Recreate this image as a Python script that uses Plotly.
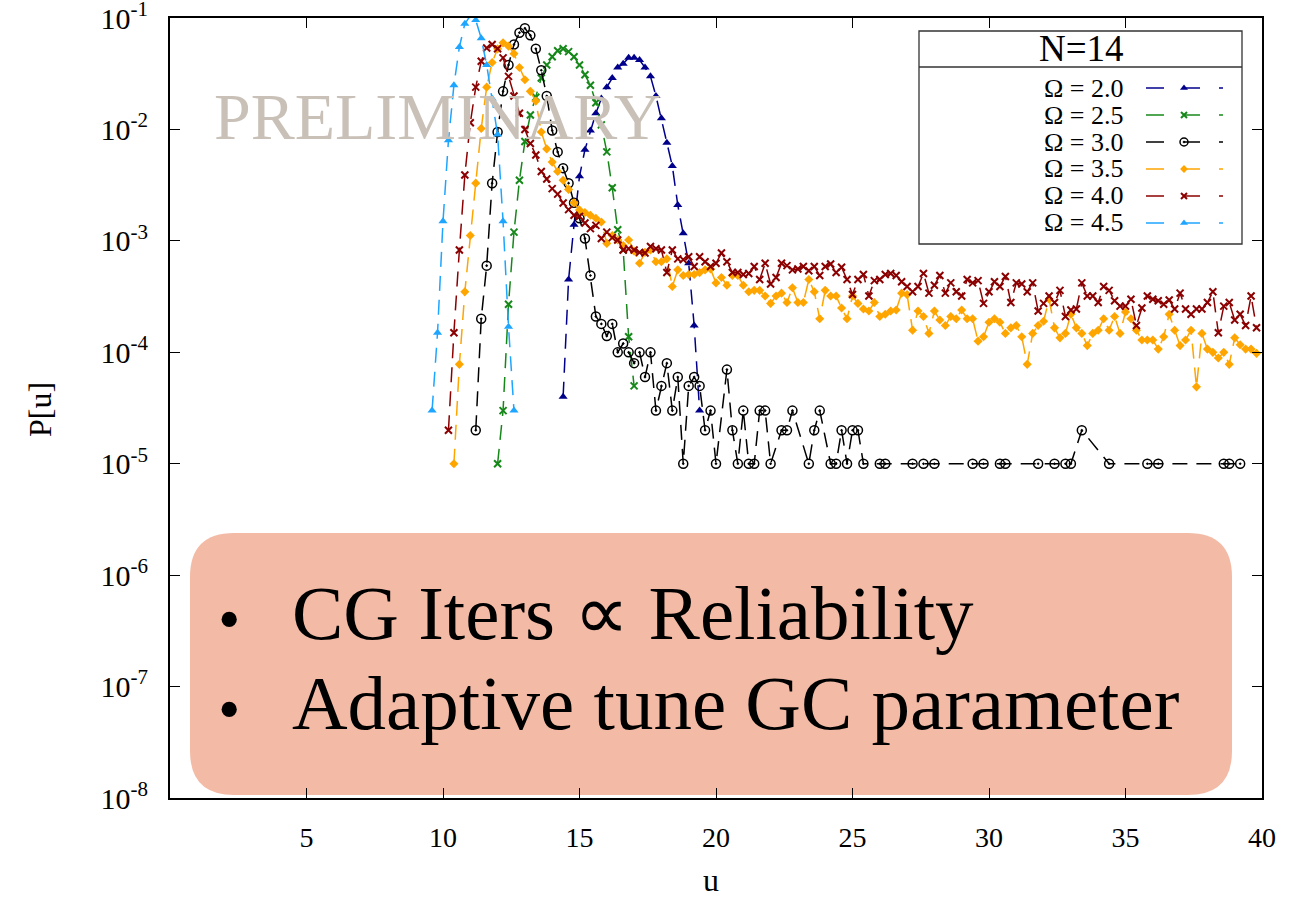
import plotly.graph_objects as go

FONT = "Liberation Serif, Times New Roman, serif"

# ---------------- data (u grid step 0.2) ----------------
U_STEP = 0.2

u0_omega20 = 14.4
p_omega20 = [4e-5, 4.5e-4, 1.4e-3, 3.8e-3, 6.6e-3, 9.8e-3, 1.4e-2, 1.9e-2, 2.4e-2, 2.9e-2,
             3.6e-2, 3.9e-2, 4.4e-2, 4.4e-2, 4.2e-2, 3.6e-2, 3.0e-2, 2.0e-2, 1.26e-2, 7.6e-3,
             4.7e-3, 2.1e-3, 1.17e-3, 6.3e-4, 1.74e-4, 3e-5]

u0_omega25 = 12.0
p_omega25 = [1.0e-5, 3.0e-5, 2.7e-4, 1.2e-3, 3.5e-3, 7.8e-3, 1.35e-2, 1.95e-2, 2.9e-2, 3.8e-2,
             4.5e-2, 5.1e-2, 5.3e-2, 5.0e-2, 4.5e-2, 3.8e-2, 3.1e-2, 2.5e-2, 1.74e-2, 1.1e-2,
             6.3e-3, 3.0e-3, 1.26e-3, 8.3e-4, 1.38e-4, 5.0e-5]

u_omega30 = [11.2, 11.4, 11.6, 11.8, 12.0, 12.2, 12.4, 12.6, 12.8, 13.0,
             13.2, 13.4, 13.6, 13.8, 14.0, 14.2, 14.4, 14.6, 14.8, 15.0,
             15.2, 15.4, 15.6, 15.8, 16.0, 16.2, 16.4, 16.6, 16.8, 17.0,
             17.2, 17.4, 17.6, 17.8, 18.0, 18.2, 18.4, 18.6, 18.8, 19.0,
             19.2, 19.4, 19.6, 19.8, 20.0, 20.4, 20.6, 20.8, 21.0, 21.2,
             21.4, 21.6, 21.8, 22.0, 22.4, 22.6, 22.8, 23.4, 23.6, 23.8,
             24.2, 24.4, 24.6, 24.8, 25.0, 25.2, 25.4, 26.0, 26.2, 27.2,
             27.6, 28.0, 29.4, 29.8, 30.4, 30.6, 31.8, 32.4, 32.8, 33.0,
             33.4, 34.4, 35.8, 36.2, 38.6, 38.8, 39.2]
p_omega30 = [2e-5, 2e-4, 6e-4, 3.3e-3, 9.5e-3, 2.2e-2, 3.8e-2, 5.8e-2, 7.4e-2, 8.1e-2,
             7.0e-2, 5.3e-2, 3.4e-2, 2.0e-2, 9.8e-3, 6.3e-3, 4.5e-3, 3.3e-3, 2.2e-3, 1.6e-3,
             1.05e-3, 4.9e-4, 2.1e-4, 1.8e-4, 1.4e-4, 1.8e-4, 1.0e-4, 1.2e-4, 1.0e-4, 8e-5,
             1.0e-4, 6e-5, 1.0e-4, 3e-5, 5e-5, 8e-5, 3e-5, 6e-5, 1e-5, 5e-5,
             6e-5, 5e-5, 2e-5, 3e-5, 1e-5, 7e-5, 2e-5, 1e-5, 3e-5, 1e-5,
             1e-5, 3e-5, 3e-5, 1e-5, 2e-5, 2e-5, 3e-5, 1e-5, 2e-5, 3e-5,
             1e-5, 1e-5, 2e-5, 1e-5, 2e-5, 2e-5, 1e-5, 1e-5, 1e-5, 1e-5,
             1e-5, 1e-5, 1e-5, 1e-5, 1e-5, 1e-5, 1e-5, 1e-5, 1e-5, 1e-5,
             2e-5, 1e-5, 1e-5, 1e-5, 1e-5, 1e-5, 1e-5]

u0_omega35 = 10.4
p_omega35 = [1.0e-5, 7.8e-5, 3.5e-4, 1.12e-3, 3.3e-3, 1.02e-2, 2.4e-2, 4.0e-2, 5.3e-2, 6.0e-2,
             5.6e-2, 4.8e-2, 3.6e-2, 2.8e-2, 2.2e-2, 1.8e-2, 9.5e-3, 6.7e-3, 5.1e-3, 4.2e-3,
             3.5e-3, 2.9e-3, 2.2e-3, 1.9e-3, 1.8e-3, 1.7e-3, 1.6e-3, 1.48e-3, 9.5e-4, 1.12e-3,
             1.02e-3, 9.1e-4, 1.02e-3, 8.1e-4, 6.3e-4, 7.9e-4, 8.3e-4, 6.5e-4, 6.5e-4, 6.9e-4,
             3.9e-4, 5.5e-4, 4.9e-4, 5.0e-4, 5.0e-4, 5.2e-4, 5.5e-4, 5.6e-4, 4.2e-4, 4.7e-4,
             4.0e-4, 4.9e-4, 4.9e-4, 4.0e-4, 3.5e-4, 3.6e-4, 3.6e-4, 3.2e-4, 2.75e-4, 3.2e-4,
             3.4e-4, 2.8e-4, 3.8e-4, 2.8e-4, 2.8e-4, 4.5e-4, 3.5e-4, 2.0e-4, 3.6e-4, 3.2e-4,
             3.2e-4, 2.5e-4, 2.0e-4, 3.2e-4, 2.75e-4, 2.45e-4, 2.35e-4, 2.8e-4, 2.1e-4, 2.2e-4,
             2.35e-4, 2.4e-4, 3.4e-4, 3.3e-4, 1.58e-4, 2.35e-4, 2.1e-4, 1.48e-4, 2.35e-4, 1.95e-4,
             1.74e-4, 2.1e-4, 2.0e-4, 2.4e-4, 2.0e-4, 2.0e-4, 1.26e-4, 1.38e-4, 1.86e-4, 2.0e-4,
             1.86e-4, 1.48e-4, 1.66e-4, 1.74e-4, 1.38e-4, 7.8e-5, 1.48e-4, 1.74e-4, 1.9e-4, 3.0e-4,
             1.66e-4, 1.35e-4, 1.48e-4, 2.2e-4, 1.66e-4, 1.48e-4, 1.15e-4, 1.48e-4, 1.58e-4, 2.0e-4,
             1.58e-4, 2.1e-4, 1.48e-4, 2.3e-4, 2.0e-4, 1.58e-4, 1.29e-4, 1.29e-4, 1.29e-4, 1.07e-4,
             1.38e-4, 2.2e-4, 1.58e-4, 1.15e-4, 1.29e-4, 1.58e-4, 4.9e-5, 1.48e-4, 1.07e-4, 1.0e-4,
             8.9e-5, 1.0e-4, 7.8e-5, 1.35e-4, 1.17e-4, 1.07e-4, 1.07e-4, 9.8e-5]

u0_omega40 = 10.2
p_omega40 = [2.0e-5, 1.5e-4, 8.3e-4, 3.9e-3, 1.15e-2, 2.4e-2, 4.1e-2, 5.4e-2, 5.8e-2, 5.3e-2,
             4.4e-2, 3.0e-2, 2.0e-2, 1.4e-2, 1.0e-2, 7.5e-3, 5.9e-3, 4.2e-3, 3.6e-3,
             2.95e-3, 2.63e-3, 2.19e-3, 1.91e-3, 1.70e-3, 1.66e-3, 1.45e-3, 1.29e-3, 1.38e-3, 1.05e-3,
             1.20e-3, 1.07e-3, 1.02e-3, 8.3e-4, 8.5e-4, 8.3e-4, 7.9e-4, 7.8e-4, 8.9e-4, 8.5e-4,
             8.3e-4, 5.2e-4, 8.3e-4, 6.9e-4, 6.8e-4, 7.2e-4, 5.9e-4, 7.2e-4, 6.5e-4, 5.9e-4,
             6.3e-4, 7.8e-4, 6.5e-4, 5.2e-4, 5.2e-4, 5.0e-4, 5.1e-4, 5.9e-4, 4.5e-4, 6.3e-4,
             4.1e-4, 4.7e-4, 6.3e-4, 6.0e-4, 5.5e-4, 5.6e-4, 5.9e-4, 5.4e-4, 5.9e-4, 4.9e-4,
             5.9e-4, 6.2e-4, 5.2e-4, 5.8e-4, 4.5e-4, 3.3e-4, 4.5e-4, 5.0e-4, 3.2e-4, 4.4e-4,
             4.5e-4, 5.0e-4, 5.1e-4, 4.9e-4, 4.3e-4, 3.9e-4, 3.5e-4, 3.9e-4, 5.1e-4, 3.4e-4,
             4.0e-4, 4.9e-4, 3.4e-4, 4.2e-4, 3.5e-4, 3.2e-4, 4.5e-4, 4.2e-4, 4.4e-4, 2.75e-4,
             3.5e-4, 4.3e-4, 3.9e-4, 4.8e-4, 2.8e-4, 4.2e-4, 4.1e-4, 3.5e-4, 4.2e-4, 2.35e-4,
             2.75e-4, 3.2e-4, 2.8e-4, 3.6e-4, 2.1e-4, 2.4e-4, 2.45e-4, 4.2e-4, 3.2e-4, 3.2e-4,
             2.8e-4, 3.9e-4, 3.6e-4, 2.9e-4, 2.6e-4, 2.6e-4, 3.0e-4, 1.74e-4, 2.5e-4, 3.2e-4,
             3.0e-4, 2.9e-4, 2.7e-4, 2.95e-4, 2.45e-4, 3.4e-4, 2.45e-4, 2.2e-4, 2.45e-4, 2.45e-4,
             2.8e-4, 3.5e-4, 1.5e-4, 2.6e-4, 2.8e-4, 1.95e-4, 2.2e-4, 1.74e-4, 3.2e-4, 1.66e-4]

u0_omega45 = 9.6
p_omega45 = [3.0e-5, 1.5e-4, 1.5e-3, 8.0e-3, 2.5e-2, 5.5e-2, 8.9e-2, 1.05e-1, 9.6e-2, 6.6e-2,
             3.8e-2, 1.9e-2, 9.0e-3, 1.5e-3, 1.7e-4, 3.0e-5]

series_names = ["Ω = 2.0", "Ω = 2.5", "Ω = 3.0", "Ω = 3.5", "Ω = 4.0", "Ω = 4.5"]
legend_title = "N=14"
x_ticks = [5, 10, 15, 20, 25, 30, 35, 40]
y_exponents = [-8, -7, -6, -5, -4, -3, -2, -1]
bullet_lines = ["CG Iters ∝ Reliability", "Adaptive tune GC parameter"]
watermark = "PRELIMINARY"


def grid(start, n):
    return [round(start + U_STEP * i, 1) for i in range(n)]


series_data = [
    (grid(u0_omega20, len(p_omega20)), p_omega20),
    (grid(u0_omega25, len(p_omega25)), p_omega25),
    (u_omega30, p_omega30),
    (grid(u0_omega35, len(p_omega35)), p_omega35),
    (grid(u0_omega40, len(p_omega40)), p_omega40),
    (grid(u0_omega45, len(p_omega45)), p_omega45),
]

# ---------------- styles ----------------
styles = [
    dict(color="#00008b", symbol="triangle-up", size=8, mlw=0),
    dict(color="#16881a", symbol="x-thin", size=7, mlw=2),
    dict(color="#000000", symbol="circle-open-dot", size=9, mlw=1.5),
    dict(color="#ffa500", symbol="diamond", size=7, mlw=0),
    dict(color="#8b0000", symbol="x-thin", size=7, mlw=2),
    dict(color="#1ea5ff", symbol="triangle-up", size=8, mlw=0),
]
DASH = "15px,9px"

# plot area in pixels
PL, PR, PT, PB = 170, 1262, 18, 798


def pxx(x):
    return (x - PL) / (PR - PL)


def pxy(y):
    return (PB - y) / (PB - PT)


fig = go.Figure()

for name, (u, p), st in zip(series_names, series_data, styles):
    fig.add_trace(go.Scatter(
        x=u, y=p, name=name, mode="lines+markers",
        line=dict(color=st["color"], width=1.5, dash=DASH),
        marker=dict(symbol=st["symbol"], size=st["size"], color=st["color"],
                    line=dict(color=st["color"], width=st["mlw"])),
        xaxis="x", yaxis="y", showlegend=False,
    ))

# ---------------- custom gnuplot-like legend (overlay axes in plot-fraction units) ----------------
row_y = [88, 115, 142, 169, 196, 223]
for name, st, ry in zip(series_names, styles, row_y):
    yy = pxy(ry)
    fig.add_trace(go.Scatter(
        x=[pxx(1146), pxx(1164), None, pxx(1184), pxx(1200), None, pxx(1219), pxx(1223)],
        y=[yy, yy, None, yy, yy, None, yy, yy],
        mode="lines", line=dict(color=st["color"], width=1.5),
        xaxis="x2", yaxis="y2", showlegend=False, hoverinfo="skip",
    ))
    fig.add_trace(go.Scatter(
        x=[pxx(1184)], y=[yy], mode="markers",
        marker=dict(symbol=st["symbol"], size=st["size"] - 1, color=st["color"],
                    line=dict(color=st["color"], width=st["mlw"])),
        xaxis="x2", yaxis="y2", showlegend=False, hoverinfo="skip",
    ))

annotations = []
for name, ry in zip(series_names, row_y):
    annotations.append(dict(
        text=name, xref="paper", yref="paper", x=pxx(1126), y=pxy(ry),
        xanchor="right", yanchor="middle", showarrow=False,
        font=dict(family=FONT, size=26, color="black"),
    ))
annotations.append(dict(
    text=legend_title, xref="paper", yref="paper", x=pxx(1081), y=pxy(49),
    xanchor="center", yanchor="middle", showarrow=False,
    font=dict(family=FONT, size=37, color="black"),
))

# watermark (drawn above the data, as in the reference)
annotations.append(dict(
    text=watermark, xref="paper", yref="paper", x=pxx(437), y=pxy(116),
    xanchor="center", yanchor="middle", showarrow=False,
    font=dict(family=FONT, size=66, color="#c9c1b8"),
))

# axis titles
annotations.append(dict(
    text="P[u]", xref="paper", yref="paper", x=pxx(40), y=pxy(410),
    xanchor="center", yanchor="middle", showarrow=False, textangle=-90,
    font=dict(family=FONT, size=32, color="black"),
))
annotations.append(dict(
    text="u", xref="paper", yref="paper", x=pxx(711), y=pxy(880),
    xanchor="center", yanchor="middle", showarrow=False,
    font=dict(family=FONT, size=32, color="black"),
))

# bullet box text
for line, cy in zip(bullet_lines, [613, 703]):
    annotations.append(dict(
        text="•", xref="paper", yref="paper", x=pxx(229), y=pxy(cy + 6),
        xanchor="center", yanchor="middle", showarrow=False,
        font=dict(family=FONT, size=64, color="black"),
    ))
    annotations.append(dict(
        text=line, xref="paper", yref="paper", x=pxx(290), y=pxy(cy),
        xanchor="left", yanchor="middle", showarrow=False,
        font=dict(family=FONT, size=77, color="black"),
    ))

# ---------------- shapes ----------------
def rounded_path(l, t, r, b, rad):
    def P(x, y):
        return f"{pxx(x):.5f},{pxy(y):.5f}"
    return (f"M {P(l + rad, t)} L {P(r - rad, t)} Q {P(r, t)} {P(r, t + rad)} "
            f"L {P(r, b - rad)} Q {P(r, b)} {P(r - rad, b)} "
            f"L {P(l + rad, b)} Q {P(l, b)} {P(l, b - rad)} "
            f"L {P(l, t + rad)} Q {P(l, t)} {P(l + rad, t)} Z")


shapes = [
    dict(type="path", xref="paper", yref="paper",
         path=rounded_path(190, 533, 1232, 795, 44),
         fillcolor="#f3bba6", line=dict(width=0), layer="below"),
    # legend frame
    dict(type="rect", xref="paper", yref="paper",
         x0=pxx(919), x1=pxx(1242), y0=pxy(244), y1=pxy(31),
         line=dict(color="#333333", width=1.3), fillcolor="rgba(0,0,0,0)", layer="above"),
    dict(type="line", xref="paper", yref="paper",
         x0=pxx(919), x1=pxx(1242), y0=pxy(67), y1=pxy(67),
         line=dict(color="#333333", width=1.3), layer="above"),
]

fig.update_layout(
    width=1312, height=902,
    margin=dict(l=PL, r=1312 - PR, t=PT, b=902 - PB, autoexpand=False),
    paper_bgcolor="white", plot_bgcolor="white",
    showlegend=False,
    font=dict(family=FONT, color="black"),
    xaxis=dict(
        range=[0, 40], tickvals=x_ticks, ticktext=[str(v) for v in x_ticks],
        ticks="inside", ticklen=10, tickwidth=1.3, tickcolor="black",
        showline=True, linecolor="black", linewidth=2, mirror="ticks",
        showgrid=False, zeroline=False, ticklabelstandoff=13, automargin=False,
        tickfont=dict(family=FONT, size=28, color="black"),
    ),
    yaxis=dict(
        type="log", range=[-8.0, -0.999],
        tickvals=[10.0 ** e for e in y_exponents],
        ticktext=[f"10<sup>{e}</sup>" for e in y_exponents],
        ticks="inside", ticklen=10, tickwidth=1.3, tickcolor="black",
        showline=True, linecolor="black", linewidth=2, mirror="ticks",
        showgrid=False, zeroline=False, ticklabelstandoff=14, automargin=False,
        ticklabeloverflow="allow",
        tickfont=dict(family=FONT, size=30, color="black"),
    ),
    xaxis2=dict(overlaying="x", range=[0, 1], visible=False, anchor="y2", automargin=False),
    yaxis2=dict(overlaying="y", range=[0, 1], visible=False, anchor="x2", automargin=False),
    annotations=annotations,
    shapes=shapes,
)

fig.write_html("out.html")
